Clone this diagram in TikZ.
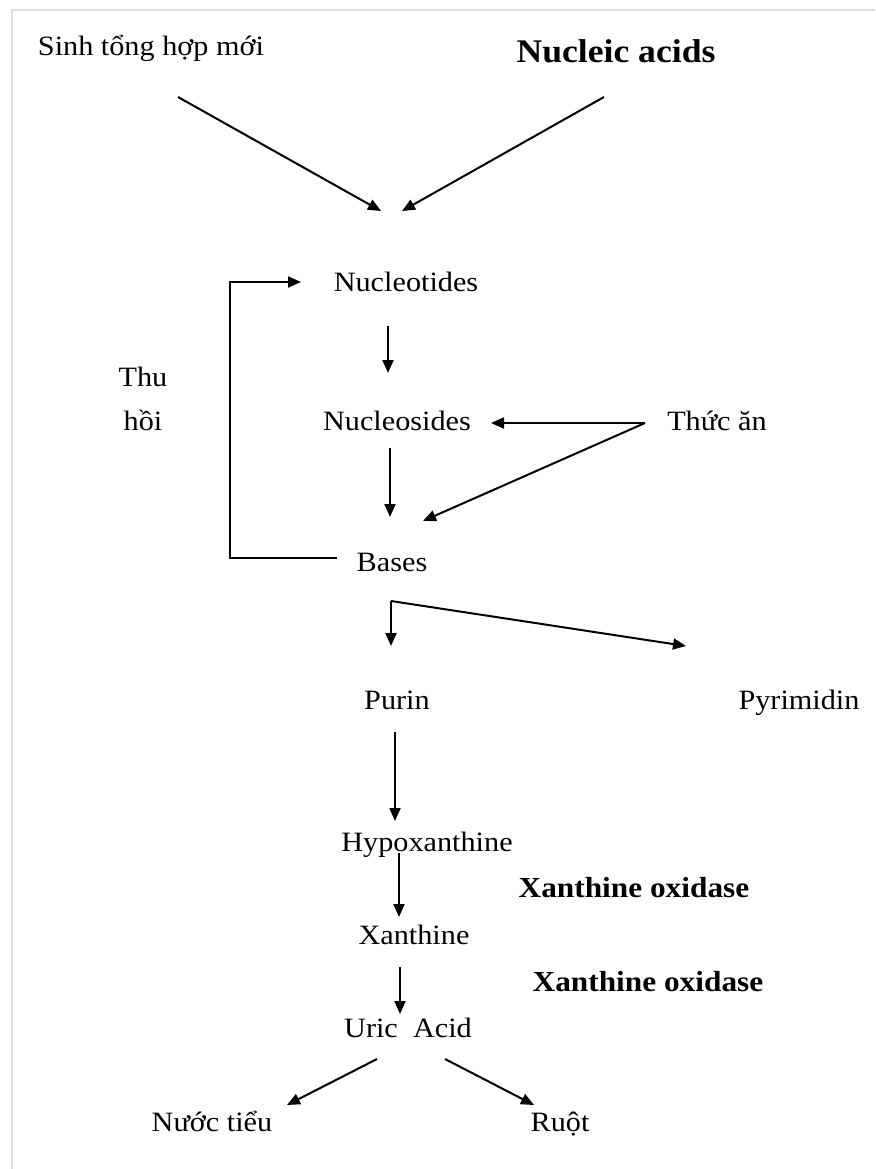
\documentclass[tikz,border=0pt]{standalone}
\usepackage{fontspec}
\setmainfont{Liberation Serif}[FakeStretch=1.08]
\usetikzlibrary{arrows.meta}
\begin{document}
\begin{tikzpicture}[x=1pt,y=-1pt,
  lbl/.style={inner sep=0pt, font=\fontsize{28}{34}\selectfont, text height=20pt, text depth=6pt},
  blbl/.style={inner sep=0pt, font=\fontsize{29}{34}\selectfont\bfseries, text height=20pt, text depth=6pt},
  arr/.style={line width=2pt, -{Triangle[length=13pt,width=11pt]}},
  frameline/.style={draw=black!13, line width=2pt}]
\useasboundingbox (0,0) rectangle (875,1169);
\draw[frameline] (12,1169) -- (12,10) -- (875,10);

% nodes
\node[lbl] (sinh) at (151,49) {Sinh tổng hợp mới};
\node[inner sep=0pt, font=\fontsize{33}{38}\selectfont\bfseries, text height=23pt, text depth=7pt] (nacid) at (616,55) {Nucleic acids};
\node[lbl] (nucleotides) at (406,284) {Nucleotides};
\node[lbl] (thu) at (143,379) {Thu};
\node[lbl] (hoi) at (143,423) {hồi};
\node[lbl] (nucleosides) at (397,423) {Nucleosides};
\node[lbl] (thucan) at (717,423) {Thức ăn};
\node[lbl] (bases) at (392,564) {Bases};
\node[lbl] (purin) at (397,702) {Purin};
\node[lbl] (pyrimidin) at (799,702) {Pyrimidin};
\node[lbl] (hypo) at (427,844) {Hypoxanthine};
\node[blbl] (xo1) at (634,890) {Xanthine oxidase};
\node[lbl] (xanthine) at (414,937) {Xanthine};
\node[blbl] (xo2) at (648,984) {Xanthine oxidase};
\node[lbl] (uric) at (408,1030) {Uric\ \ Acid};
\node[lbl] (nuoc) at (212,1124) {Nước tiểu};
\node[lbl] (ruot) at (560,1124) {Ruột};

% connector end points
\coordinate (s1) at (178,97);
\coordinate (s2) at (604,97);
\coordinate (t1) at (381,211);
\coordinate (t2) at (402,211);
\coordinate (fork) at (645,423);
\coordinate (bfork) at (391,601);
\coordinate (bl) at (337,558);

% arrows
\draw[arr] (s1) -- (t1);
\draw[arr] (s2) -- (t2);
\draw[arr] (bl) -- (230,558) -- (230,282) -- (301,282);
\draw[arr] (388,326) -- (388,373);
\draw[arr] (fork) -- (491,423);
\draw[arr] (fork) -- (423,521);
\draw[arr] (390,448) -- (390,517);
\draw[arr] (bfork) -- (391,646);
\draw[arr] (bfork) -- (686,646);
\draw[arr] (395,732) -- (395,821);
\draw[arr] (399,853) -- (399,917);
\draw[arr] (400,967) -- (400,1014);
\draw[arr] (377,1059) -- (287,1105);
\draw[arr] (445,1059) -- (534,1105);
\end{tikzpicture}
\end{document}
